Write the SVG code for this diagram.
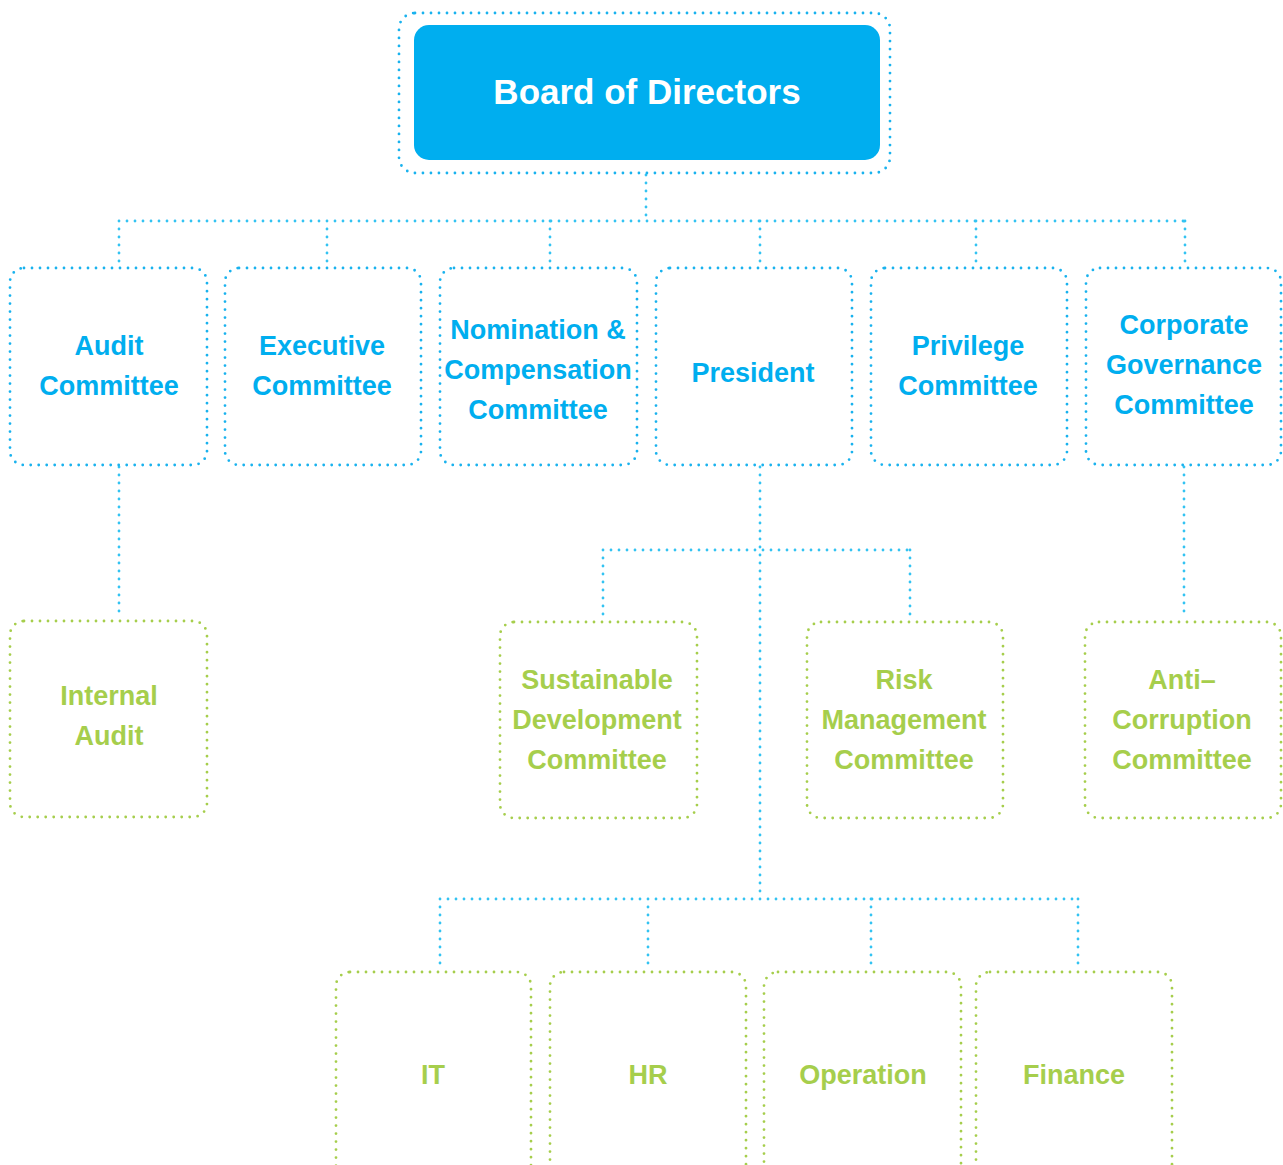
<svg xmlns="http://www.w3.org/2000/svg" width="1283" height="1165" viewBox="0 0 1283 1165">
<style>
.bb{fill:none;stroke:#19B2EE;stroke-width:2.8;stroke-dasharray:0 8;stroke-linecap:round}
.gb{fill:none;stroke:#A6CE4C;stroke-width:2.8;stroke-dasharray:0 8;stroke-linecap:round}
.cn{fill:none;stroke:#33C3F2;stroke-width:2.8;stroke-dasharray:0 8;stroke-linecap:round}
.bt{fill:#00AEEF;font-family:"Liberation Sans",Arial,sans-serif;font-weight:bold;font-size:27px;text-anchor:middle}
.gt{fill:#A6CE4C;font-family:"Liberation Sans",Arial,sans-serif;font-weight:bold;font-size:27px;text-anchor:middle}
</style>
<rect width="1283" height="1165" fill="#fff"/>
<g id="connectors">
<path class="cn" d="M646 175V221M119 221H1185M119 221V266M327 221V266M550 221V266M760 221V266M976 221V266M1185 221V266"/>
<path class="cn" d="M119 467V619M1184 467V619M760 467V898M603 550H910M603 550V619M910 550V619"/>
<path class="cn" d="M440 899H1078M440 899V969M648 899V969M871 899V969M1078 899V969"/>
</g>
<g id="board">
<rect class="bb" x="399" y="13" width="491" height="160" rx="16"/>
<rect x="414" y="25" width="466" height="135" rx="15" fill="#00AEEF"/>
<text x="647" y="104" fill="#fff" font-family="'Liberation Sans',Arial,sans-serif" font-weight="bold" font-size="35" text-anchor="middle">Board of Directors</text>
</g>
<g id="audit-committee">
<rect class="bb" x="10" y="268" width="197" height="197" rx="14"/>
<text class="bt" x="109" y="355">Audit</text><text class="bt" x="109" y="395">Committee</text>
</g>
<g id="executive-committee">
<rect class="bb" x="225" y="268" width="196" height="197" rx="14"/>
<text class="bt" x="322" y="355">Executive</text><text class="bt" x="322" y="395">Committee</text>
</g>
<g id="nomination-committee">
<rect class="bb" x="440" y="268" width="197" height="197" rx="14"/>
<text class="bt" x="538" y="339">Nomination &amp;</text><text class="bt" x="538" y="379">Compensation</text><text class="bt" x="538" y="419">Committee</text>
</g>
<g id="president">
<rect class="bb" x="656" y="268" width="196" height="197" rx="14"/>
<text class="bt" x="753" y="382">President</text>
</g>
<g id="privilege-committee">
<rect class="bb" x="871" y="268" width="196" height="197" rx="14"/>
<text class="bt" x="968" y="355">Privilege</text><text class="bt" x="968" y="395">Committee</text>
</g>
<g id="corporate-governance-committee">
<rect class="bb" x="1086" y="268" width="195" height="197" rx="14"/>
<text class="bt" x="1184" y="334">Corporate</text><text class="bt" x="1184" y="374">Governance</text><text class="bt" x="1184" y="414">Committee</text>
</g>
<g id="internal-audit">
<rect class="gb" x="10" y="621" width="197" height="196" rx="14"/>
<text class="gt" x="109" y="705">Internal</text><text class="gt" x="109" y="745">Audit</text>
</g>
<g id="sustainable-development-committee">
<rect class="gb" x="500" y="622" width="197" height="196" rx="14"/>
<text class="gt" x="597" y="689">Sustainable</text><text class="gt" x="597" y="729">Development</text><text class="gt" x="597" y="769">Committee</text>
</g>
<g id="risk-management-committee">
<rect class="gb" x="807" y="622" width="196" height="196" rx="14"/>
<text class="gt" x="904" y="689">Risk</text><text class="gt" x="904" y="729">Management</text><text class="gt" x="904" y="769">Committee</text>
</g>
<g id="anti-corruption-committee">
<rect class="gb" x="1085" y="622" width="196" height="196" rx="14"/>
<text class="gt" x="1182" y="689">Anti–</text><text class="gt" x="1182" y="729">Corruption</text><text class="gt" x="1182" y="769">Committee</text>
</g>
<g id="it">
<rect class="gb" x="336" y="972" width="195" height="210" rx="14"/>
<text class="gt" x="433" y="1084">IT</text>
</g>
<g id="hr">
<rect class="gb" x="550" y="972" width="196" height="210" rx="14"/>
<text class="gt" x="648" y="1084">HR</text>
</g>
<g id="operation">
<rect class="gb" x="764" y="972" width="197" height="210" rx="14"/>
<text class="gt" x="863" y="1084">Operation</text>
</g>
<g id="finance">
<rect class="gb" x="976" y="972" width="196" height="210" rx="14"/>
<text class="gt" x="1074" y="1084">Finance</text>
</g>
</svg>
